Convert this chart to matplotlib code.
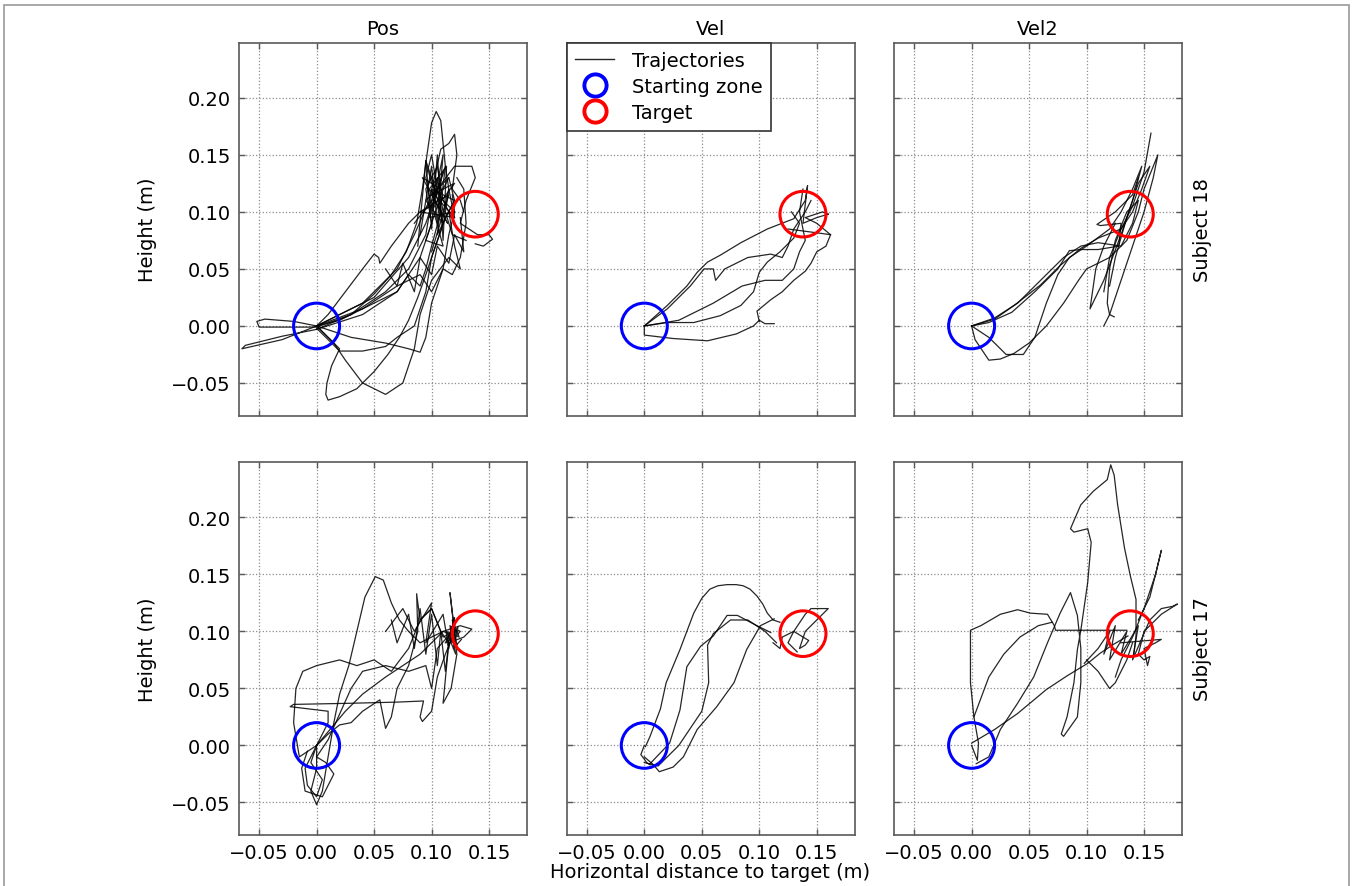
import matplotlib
matplotlib.use("Agg")
import matplotlib.pyplot as plt
from matplotlib.patches import Circle, Rectangle
from matplotlib.lines import Line2D
from matplotlib.ticker import FuncFormatter

# ---------------- data ----------------
col_titles = ["Pos", "Vel", "Vel2"]
row_labels = ["Subject 18", "Subject 17"]
x_ticks = [-0.05, 0.00, 0.05, 0.10, 0.15]
y_ticks = [-0.05, 0.00, 0.05, 0.10, 0.15, 0.20]
start_xy = (0.0, 0.0)
target_xy = (0.138, 0.098)
zone_radius = 0.02

# Subject 18 - Pos
s18_pos = [
    [(0, 0), (-0.02, 0.004), (-0.045, 0.006), (-0.052, 0.004), (-0.05, -0.001), (-0.03, -0.001), (0.0, -0.001),
     (0.03, 0.01), (0.06, 0.03), (0.08, 0.05), (0.095, 0.08), (0.10, 0.11), (0.105, 0.13), (0.11, 0.10),
     (0.115, 0.12), (0.12, 0.095)],
    [(0, 0), (-0.03, -0.012), (-0.065, -0.02), (-0.062, -0.017), (-0.03, -0.009), (0.0, -0.003), (0.04, 0.01),
     (0.07, 0.03), (0.09, 0.06), (0.1, 0.09), (0.095, 0.12), (0.105, 0.14), (0.11, 0.11), (0.12, 0.10)],
    [(0, 0), (0.01, -0.01), (0.02, -0.02), (0.013, -0.035), (0.009, -0.05), (0.008, -0.06), (0.01, -0.065),
     (0.02, -0.062), (0.035, -0.055), (0.05, -0.04), (0.062, -0.025), (0.072, -0.01), (0.08, 0.005),
     (0.088, 0.025), (0.095, 0.045), (0.1, 0.06), (0.107, 0.08), (0.112, 0.095), (0.12, 0.11), (0.115, 0.13)],
    [(0, 0), (0.01, 0.01), (0.025, 0.03), (0.04, 0.05), (0.05, 0.063), (0.054, 0.06), (0.055, 0.055),
     (0.065, 0.07), (0.08, 0.09), (0.09, 0.1), (0.1, 0.105), (0.095, 0.13), (0.1, 0.15), (0.105, 0.12)],
    [(0.0, -0.003), (0.03, 0.01), (0.05, 0.028), (0.065, 0.045), (0.078, 0.065), (0.087, 0.09), (0.092, 0.12),
     (0.096, 0.15), (0.1, 0.178), (0.104, 0.188), (0.108, 0.18), (0.11, 0.16), (0.112, 0.14), (0.115, 0.12),
     (0.112, 0.10), (0.118, 0.08), (0.13, 0.075)],
    [(0, 0), (0.04, 0.02), (0.07, 0.05), (0.085, 0.08), (0.098, 0.11), (0.108, 0.155), (0.115, 0.16),
     (0.12, 0.168), (0.122, 0.15), (0.118, 0.12), (0.125, 0.11), (0.128, 0.1)],
    [(0, 0), (0.05, 0.025), (0.08, 0.06), (0.095, 0.09), (0.105, 0.12), (0.12, 0.14), (0.135, 0.14),
     (0.138, 0.13), (0.13, 0.11), (0.125, 0.09), (0.14, 0.08), (0.15, 0.08), (0.153, 0.076), (0.145, 0.07),
     (0.138, 0.072)],
    [(0, 0), (0.03, -0.01), (0.06, -0.015), (0.08, -0.02), (0.09, -0.023), (0.095, -0.01), (0.1, 0.02),
     (0.11, 0.05), (0.115, 0.08), (0.12, 0.1), (0.118, 0.115)],
    [(0.0, -0.002), (0.02, -0.022), (0.04, -0.022), (0.06, -0.018), (0.07, -0.01), (0.085, 0.0), (0.095, 0.03),
     (0.1, 0.06), (0.11, 0.09), (0.105, 0.12), (0.11, 0.135)],
    [(0, 0), (0.02, 0.005), (0.05, 0.02), (0.07, 0.03), (0.08, 0.045), (0.09, 0.035), (0.095, 0.05),
     (0.1, 0.07), (0.108, 0.1), (0.1, 0.13), (0.095, 0.145), (0.1, 0.125), (0.11, 0.11), (0.12, 0.09)],
    [(0, 0), (0.015, -0.015), (0.025, -0.03), (0.04, -0.05), (0.06, -0.06), (0.075, -0.05), (0.085, -0.02),
     (0.09, 0.01), (0.1, 0.04), (0.115, 0.06), (0.125, 0.05), (0.12, 0.07), (0.115, 0.1)],
    [(0, 0), (0.04, 0.015), (0.07, 0.035), (0.09, 0.045), (0.1, 0.03), (0.11, 0.05), (0.118, 0.045),
     (0.125, 0.06), (0.13, 0.09), (0.128, 0.12), (0.122, 0.13)],
    [(0.09, 0.08), (0.1, 0.14), (0.105, 0.09), (0.11, 0.15), (0.1, 0.1), (0.115, 0.13), (0.095, 0.11),
     (0.11, 0.09), (0.1, 0.12), (0.12, 0.11), (0.105, 0.08), (0.112, 0.14), (0.098, 0.095), (0.118, 0.1)],
    [(0.085, 0.09), (0.108, 0.12), (0.092, 0.13), (0.114, 0.09), (0.1, 0.115), (0.12, 0.125), (0.105, 0.105),
     (0.095, 0.075), (0.11, 0.07), (0.102, 0.1)],
    [(0.088, 0.07), (0.095, 0.145), (0.1, 0.085), (0.105, 0.15), (0.11, 0.075), (0.113, 0.14), (0.098, 0.12),
     (0.12, 0.095), (0.09, 0.1), (0.115, 0.115), (0.1, 0.065)],
    [(0.06, 0.05), (0.07, 0.035), (0.075, 0.055), (0.085, 0.03), (0.09, 0.06), (0.1, 0.045), (0.105, 0.07),
     (0.115, 0.055), (0.12, 0.08), (0.128, 0.065), (0.125, 0.095)],
]

# Subject 18 - Vel
s18_vel = [
    [(0, 0), (0.02, 0.018), (0.037, 0.035), (0.046, 0.047), (0.055, 0.056), (0.066, 0.062), (0.084, 0.073),
     (0.107, 0.085), (0.13, 0.094), (0.14, 0.11), (0.142, 0.123), (0.138, 0.09), (0.15, 0.095), (0.16, 0.098)],
    [(0, 0), (0.02, 0.003), (0.043, 0.003), (0.066, 0.009), (0.084, 0.018), (0.095, 0.03), (0.1, 0.047),
     (0.107, 0.056), (0.118, 0.065), (0.13, 0.077), (0.135, 0.09), (0.128, 0.1)],
    [(0, 0), (0.0, -0.008), (0.025, -0.011), (0.055, -0.013), (0.08, -0.007), (0.095, 0.0), (0.1, 0.005),
     (0.105, 0.002), (0.113, 0.002)],
    [(0.1, 0.004), (0.098, 0.013), (0.11, 0.023), (0.12, 0.03), (0.13, 0.04), (0.14, 0.048), (0.145, 0.055),
     (0.15, 0.065), (0.158, 0.07), (0.162, 0.08), (0.15, 0.09), (0.14, 0.095), (0.155, 0.1), (0.16, 0.098)],
    [(0, 0), (0.02, 0.015), (0.04, 0.035), (0.052, 0.05), (0.06, 0.05), (0.062, 0.04), (0.07, 0.05),
     (0.09, 0.06), (0.11, 0.063), (0.12, 0.06), (0.125, 0.07), (0.13, 0.085), (0.14, 0.1), (0.145, 0.11)],
    [(0, 0), (0.03, 0.005), (0.06, 0.02), (0.085, 0.035), (0.105, 0.04), (0.12, 0.04), (0.13, 0.05),
     (0.135, 0.065), (0.14, 0.075), (0.135, 0.1), (0.138, 0.12)],
    [(0.125, 0.085), (0.14, 0.083), (0.155, 0.081), (0.162, 0.08)],
]

# Subject 18 - Vel2
s18_vel2 = [
    [(0, 0), (0.02, 0.006), (0.037, 0.018), (0.06, 0.036), (0.077, 0.053), (0.095, 0.068), (0.11, 0.077),
     (0.13, 0.085), (0.14, 0.105), (0.15, 0.135), (0.156, 0.169)],
    [(0, 0), (0.003, -0.012), (0.015, -0.03), (0.025, -0.029), (0.037, -0.024), (0.05, -0.015), (0.065, 0.0),
     (0.08, 0.02), (0.093, 0.04), (0.1, 0.05), (0.12, 0.06), (0.135, 0.075), (0.145, 0.1), (0.15, 0.12),
     (0.162, 0.15), (0.158, 0.13), (0.15, 0.1), (0.14, 0.07), (0.13, 0.04), (0.12, 0.01), (0.115, 0.0)],
    [(0, 0), (0.015, -0.01), (0.03, -0.025), (0.045, -0.025), (0.055, -0.01), (0.065, 0.02), (0.075, 0.045),
     (0.085, 0.06), (0.1, 0.07), (0.12, 0.085), (0.13, 0.1), (0.14, 0.12), (0.148, 0.14), (0.14, 0.11),
     (0.13, 0.08), (0.115, 0.04), (0.103, 0.015), (0.108, 0.05), (0.115, 0.07), (0.125, 0.09)],
    [(0, 0), (0.02, 0.007), (0.04, 0.02), (0.06, 0.04), (0.08, 0.06), (0.095, 0.07), (0.11, 0.073),
     (0.13, 0.07), (0.14, 0.09), (0.145, 0.11), (0.135, 0.1), (0.125, 0.075), (0.12, 0.05), (0.118, 0.02),
     (0.12, 0.01), (0.124, 0.008)],
    [(0, 0), (0.015, 0.003), (0.035, 0.012), (0.055, 0.03), (0.075, 0.05), (0.085, 0.066), (0.095, 0.067),
     (0.11, 0.067), (0.128, 0.07), (0.13, 0.09), (0.112, 0.088), (0.109, 0.089), (0.125, 0.1), (0.14, 0.115),
     (0.145, 0.13)],
    [(0.115, 0.03), (0.12, 0.06), (0.13, 0.085), (0.14, 0.1), (0.148, 0.12), (0.155, 0.14), (0.145, 0.125),
     (0.135, 0.095), (0.125, 0.06), (0.12, 0.035)],
]

# Subject 17 - Pos
s17_pos = [
    [(0, 0), (0.0, -0.02), (-0.005, -0.04), (0.0, -0.052), (0.005, -0.04), (0.01, -0.01), (0.015, 0.02),
     (0.02, 0.045), (0.028, 0.07), (0.035, 0.1), (0.042, 0.13), (0.051, 0.148), (0.058, 0.145), (0.065, 0.125),
     (0.072, 0.11), (0.08, 0.1), (0.09, 0.09), (0.1, 0.095), (0.11, 0.1), (0.118, 0.097)],
    [(0, 0), (-0.015, -0.01), (-0.02, 0.02), (-0.018, 0.05), (-0.012, 0.065), (0.0, 0.07), (0.02, 0.075),
     (0.035, 0.07), (0.05, 0.075), (0.065, 0.065), (0.08, 0.085), (0.09, 0.11), (0.1, 0.12), (0.11, 0.095),
     (0.12, 0.1)],
    [(0, 0), (-0.01, -0.02), (-0.008, -0.035), (0.0, -0.045), (0.005, -0.03), (-0.005, -0.015), (0.0, 0.0),
     (0.01, 0.02), (0.01, 0.03), (-0.023, 0.034), (-0.02, 0.036), (0.03, 0.037), (0.07, 0.038), (0.093, 0.039),
     (0.09, 0.025), (0.092, 0.021), (0.1, 0.03), (0.105, 0.06), (0.112, 0.08), (0.118, 0.095)],
    [(0, 0), (0.01, 0.01), (0.02, 0.018), (0.03, 0.02), (0.04, 0.03), (0.055, 0.04), (0.06, 0.015),
     (0.065, 0.025), (0.07, 0.05), (0.08, 0.07), (0.088, 0.1), (0.087, 0.133), (0.09, 0.11), (0.1, 0.12),
     (0.108, 0.1), (0.115, 0.09), (0.11, 0.037), (0.117, 0.05), (0.122, 0.08), (0.116, 0.134), (0.12, 0.1)],
    [(0, 0), (0.01, 0.012), (0.025, 0.03), (0.04, 0.045), (0.06, 0.06), (0.075, 0.07), (0.09, 0.08),
     (0.1, 0.09), (0.11, 0.1), (0.125, 0.105), (0.135, 0.102), (0.128, 0.095), (0.12, 0.092)],
    [(0.06, 0.1), (0.075, 0.12), (0.085, 0.1), (0.1, 0.125), (0.095, 0.09), (0.11, 0.115), (0.115, 0.085),
     (0.12, 0.11), (0.113, 0.09), (0.122, 0.1), (0.116, 0.105), (0.118, 0.09), (0.121, 0.095)],
    [(-0.008, -0.005), (-0.013, -0.02), (-0.01, -0.04), (0.005, -0.045), (0.015, -0.025), (0.008, -0.015),
     (0.0, -0.01), (0.01, 0.005), (0.03, 0.05), (0.04, 0.065), (0.06, 0.07), (0.08, 0.065), (0.095, 0.07),
     (0.1, 0.05), (0.105, 0.085), (0.118, 0.1)],
    [(0.112, 0.09), (0.12, 0.105), (0.115, 0.095), (0.122, 0.088), (0.118, 0.11), (0.124, 0.095),
     (0.113, 0.1), (0.121, 0.08), (0.117, 0.104), (0.125, 0.1), (0.114, 0.088), (0.12, 0.112),
     (0.116, 0.092), (0.123, 0.104), (0.119, 0.085), (0.126, 0.093)],
    [(0.065, 0.11), (0.07, 0.09), (0.08, 0.115), (0.085, 0.085), (0.09, 0.12), (0.095, 0.08), (0.1, 0.115),
     (0.105, 0.07), (0.108, 0.1), (0.112, 0.065), (0.115, 0.09)],
]

# Subject 17 - Vel
s17_vel = [
    [(0.001, -0.001), (0.005, 0.008), (0.014, 0.032), (0.019, 0.055), (0.031, 0.084), (0.043, 0.116),
     (0.05, 0.129), (0.057, 0.137), (0.064, 0.14), (0.072, 0.141), (0.08, 0.141), (0.086, 0.140),
     (0.092, 0.137), (0.098, 0.131), (0.103, 0.124), (0.107, 0.116), (0.112, 0.110), (0.118, 0.108)],
    [(0.0, -0.01), (0.008, -0.017), (0.013, -0.023), (0.025, -0.019), (0.034, -0.01), (0.046, 0.014),
     (0.063, 0.034), (0.078, 0.055), (0.089, 0.084), (0.101, 0.105), (0.113, 0.111)],
    [(0.005, -0.016), (0.022, 0.002), (0.031, 0.031), (0.037, 0.069), (0.049, 0.087), (0.06, 0.096),
     (0.072, 0.114), (0.081, 0.114), (0.098, 0.105), (0.11, 0.099)],
    [(0.0, -0.015), (0.012, -0.018), (0.03, 0.0), (0.05, 0.03), (0.056, 0.055), (0.055, 0.088), (0.06, 0.098),
     (0.075, 0.11), (0.09, 0.11), (0.105, 0.1), (0.115, 0.09)],
    [(0.112, 0.09), (0.118, 0.085), (0.12, 0.095), (0.13, 0.1), (0.14, 0.115), (0.145, 0.12), (0.16, 0.12),
     (0.15, 0.11), (0.14, 0.1), (0.135, 0.085), (0.14, 0.088), (0.143, 0.092), (0.13, 0.1), (0.125, 0.09),
     (0.133, 0.082)],
    [(0.0, 0.0), (-0.003, -0.008), (0.0, -0.012), (0.002, -0.015), (0.005, -0.017)],
]

# Subject 17 - Vel2
s17_vel2 = [
    [(0.0, 0.0), (0.005, -0.013), (0.006, 0.002), (0.002, 0.025), (-0.001, 0.055), (-0.001, 0.101),
     (0.008, 0.105), (0.025, 0.115), (0.04, 0.119), (0.051, 0.116), (0.066, 0.115), (0.072, 0.105),
     (0.073, 0.101), (0.095, 0.101), (0.118, 0.101), (0.135, 0.101)],
    [(0.095, 0.101), (0.101, 0.143), (0.104, 0.178), (0.101, 0.19), (0.089, 0.187), (0.086, 0.19),
     (0.095, 0.211), (0.106, 0.223), (0.118, 0.233), (0.121, 0.246), (0.124, 0.237), (0.127, 0.211),
     (0.133, 0.173), (0.138, 0.149), (0.143, 0.128), (0.143, 0.096), (0.141, 0.079)],
    [(0.0, 0.002), (0.02, 0.014), (0.04, 0.028), (0.065, 0.049), (0.083, 0.061), (0.101, 0.072),
     (0.112, 0.081), (0.124, 0.089), (0.136, 0.096)],
    [(0.004, -0.016), (0.015, -0.01), (0.025, 0.014), (0.04, 0.037), (0.054, 0.06), (0.066, 0.09),
     (0.077, 0.116), (0.086, 0.134), (0.092, 0.114), (0.095, 0.085), (0.095, 0.055), (0.092, 0.025),
     (0.08, 0.008), (0.078, 0.01), (0.083, 0.025), (0.089, 0.055), (0.092, 0.084), (0.095, 0.101)],
    [(0.002, 0.025), (0.015, 0.06), (0.028, 0.08), (0.042, 0.095), (0.058, 0.105), (0.07, 0.108)],
    [(0.098, 0.072), (0.11, 0.085), (0.12, 0.1), (0.115, 0.08), (0.125, 0.105), (0.12, 0.075), (0.135, 0.1),
     (0.13, 0.08), (0.145, 0.105), (0.14, 0.075), (0.155, 0.11), (0.165, 0.12), (0.175, 0.122), (0.179, 0.124),
     (0.165, 0.115), (0.15, 0.1), (0.145, 0.08), (0.15, 0.075), (0.155, 0.078), (0.153, 0.07), (0.15, 0.085),
     (0.16, 0.09), (0.165, 0.093), (0.13, 0.09)],
    [(0.125, 0.06), (0.13, 0.075), (0.14, 0.095), (0.15, 0.12), (0.16, 0.15), (0.165, 0.171), (0.16, 0.15),
     (0.155, 0.13), (0.145, 0.11)],
    [(0.1, 0.075), (0.11, 0.065), (0.12, 0.05), (0.125, 0.055), (0.135, 0.075), (0.14, 0.09)],
]

panels = [[s18_pos, s18_vel, s18_vel2], [s17_pos, s17_vel, s17_vel2]]

# ---------------- figure ----------------
plt.rcParams['font.family'] = ['DejaVu Sans']
plt.rcParams['font.size'] = 14

W, H = 1353, 887
fig = plt.figure(figsize=(W / 100, H / 100), dpi=100)
fig.patch.set_facecolor('white')

# outer thin frame
fig.add_artist(Rectangle((4 / W, -0.05), (1349 - 4) / W, 1.05 - 6 / H, transform=fig.transFigure,
                         fill=False, edgecolor='0.6', linewidth=1.2))

col_left = [239 / W, 566.7 / W, 894 / W]
ax_w = 288 / W
row_bottom = [1 - 416.5 / H, 1 - 836 / H]
ax_h = 373 / H

fmt = FuncFormatter(lambda v, p: ("%.2f" % v).replace("-", "\u2212"))

for r in range(2):
    for c in range(3):
        ax = fig.add_axes([col_left[c], row_bottom[r], ax_w, ax_h])
        for traj in panels[r][c]:
            xs = [p[0] for p in traj]
            ys = [p[1] for p in traj]
            ax.plot(xs, ys, color='k', lw=0.9, alpha=0.85, zorder=2)
        ax.add_patch(Circle(start_xy, zone_radius, fill=False, edgecolor='#0000ff', lw=2.2, zorder=3))
        ax.add_patch(Circle(target_xy, zone_radius, fill=False, edgecolor='#ff0000', lw=2.2, zorder=3))
        ax.set_xlim(-0.0675, 0.183)
        ax.set_ylim(-0.0785, 0.2485)
        ax.set_xticks(x_ticks)
        ax.set_yticks(y_ticks)
        ax.xaxis.set_major_formatter(fmt)
        ax.yaxis.set_major_formatter(fmt)
        ax.grid(True, color='0.55', linestyle=':', linewidth=0.9)
        ax.tick_params(direction='in', length=4, width=1, color='0.35', top=True, right=True,
                       labelsize=14, pad=6)
        for s in ax.spines.values():
            s.set_color('0.35')
            s.set_linewidth(1.2)
        if c != 0:
            ax.tick_params(labelleft=False)
        if r != 1:
            ax.tick_params(labelbottom=False)
        if r == 0:
            ax.set_title(col_titles[c], fontsize=14, pad=6)
        if c == 2:
            ax.yaxis.set_label_position('right')
            ax.set_ylabel(row_labels[r], fontsize=14, labelpad=8)
        if c == 0:
            ax.set_ylabel("Height (m)", fontsize=14, labelpad=10)
        if r == 0 and c == 1:
            handles = [
                Line2D([], [], color='k', lw=1.0, alpha=0.85),
                Line2D([], [], linestyle='none', marker='o', markersize=16, markerfacecolor='none',
                       markeredgecolor='#0000ff', markeredgewidth=2.8),
                Line2D([], [], linestyle='none', marker='o', markersize=16, markerfacecolor='none',
                       markeredgecolor='#ff0000', markeredgewidth=2.8),
            ]
            leg = ax.legend(handles, ["Trajectories", "Starting zone", "Target"], loc='upper left',
                            borderaxespad=0.0, fancybox=False, framealpha=1, edgecolor='0.2',
                            fontsize=14, handlelength=2.0, borderpad=0.45, labelspacing=0.35,
                            handletextpad=0.9)
            leg.get_frame().set_linewidth(1.2)
            leg.set_zorder(5)

fig.text(710 / W, 1 - 873 / H, "Horizontal distance to target (m)", ha='center', va='center', fontsize=14)

fig.savefig("out.png", dpi=100, facecolor='white')
